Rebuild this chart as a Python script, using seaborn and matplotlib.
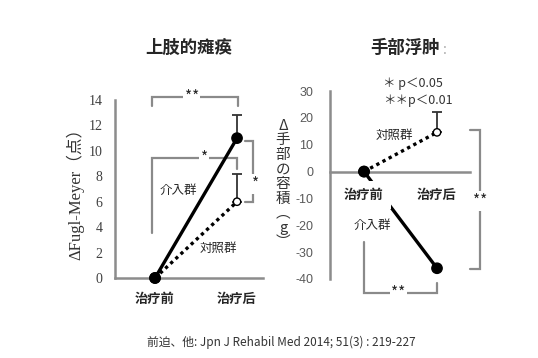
import matplotlib.pyplot as plt
import seaborn as sns
import numpy as np
import pandas as pd

# 数据
phases = ['治疗前', '治疗后']
fm_intervention = [0, 11.0]
fm_intervention_sd = [0, 1.8]
fm_control = [0, 6.0]
fm_control_sd = [0, 2.2]
vol_intervention = [0, -36.0]
vol_control = [0, 14.6]
vol_control_sd = [0, 7.4]
fm_ticks = [0, 2, 4, 6, 8, 10, 12, 14]
vol_ticks = [-40, -30, -20, -10, 0, 10, 20, 30]

sns.set_style('white')
plt.rcParams['font.family'] = ['Noto Sans CJK JP', 'DejaVu Sans']

spine_c = '#8c8c8c'
br_c = '#8a8a8a'
white = dict(facecolor='white', edgecolor='none', pad=1)

fig = plt.figure(figsize=(5.38, 3.58), dpi=100)
ax1 = fig.add_axes([0.2138, 0.2235, 0.2751, 0.4972])
ax2 = fig.add_axes([0.6134, 0.2207, 0.2602, 0.5251])

x = np.arange(len(phases))


def draw_group(ax, y, ls, face, sd=None):
    sns.lineplot(x=x, y=y, ax=ax, color='black', lw=2.4, linestyle=ls,
                 clip_on=False, zorder=2)
    if sd is not None:
        ax.errorbar(x[1:], y[1:], yerr=[[0], sd[1:]], fmt='none', ecolor='#333333',
                    elinewidth=1.3, capsize=3.5, capthick=1.3, zorder=3, clip_on=False)
    sns.scatterplot(x=x, y=y, ax=ax, s=[55, 55] if face == 'black' else [55, 28],
                    color=['black', face], edgecolor='black', linewidth=1.0,
                    zorder=5, clip_on=False, legend=False)


def bracket(ax, xs, ys):
    ax.plot(xs, ys, color=br_c, lw=1.6, clip_on=False, zorder=1,
            solid_joinstyle='miter')


def style_axis(ax):
    for s in ['top', 'right']:
        ax.spines[s].set_visible(False)
    for s in ['left', 'bottom']:
        ax.spines[s].set_color(spine_c)
        ax.spines[s].set_linewidth(1.8)
    ax.tick_params(direction='in', length=3, width=1.2, color=spine_c)


# ---- 上肢的瘫痪 ----
draw_group(ax1, fm_control, (0, (1, 1.1)), 'white', fm_control_sd)
draw_group(ax1, fm_intervention, '-', 'black', fm_intervention_sd)
style_axis(ax1)
ax1.set_xlim(-0.488, 1.317)
ax1.set_ylim(0, 14)
ax1.set_yticks(fm_ticks)
ax1.set_yticklabels([str(t) for t in fm_ticks], family='Liberation Serif',
                    fontsize=10, color='#404040')
ax1.set_xticks(x)
ax1.set_xticklabels(phases, fontsize=9.5, fontweight='bold')
ax1.tick_params(axis='x', pad=10, length=0)
ax1.tick_params(axis='y', pad=9)

bracket(ax1, [-0.04, -0.04, 1.01, 1.01], [13.5, 14.2, 14.2, 13.5])
ax1.text(0.45, 14.2, '**', ha='center', va='center', fontsize=11, bbox=white, zorder=6)
bracket(ax1, [-0.04, -0.04, 1.0, 1.0], [3.5, 9.4, 9.4, 8.6])
ax1.text(0.6, 9.4, '*', ha='center', va='center', fontsize=11, bbox=white, zorder=6)
bracket(ax1, [1.10, 1.20, 1.20, 1.10], [10.8, 10.8, 6.0, 6.0])
ax1.text(1.22, 7.4, '*', ha='center', va='center', fontsize=11, bbox=white, zorder=6)
ax1.text(0.28, 6.9, '介入群', ha='center', va='center', fontsize=9)
ax1.text(0.77, 2.35, '対照群', ha='center', va='center', fontsize=9)

# ---- 手部浮肿 ----
draw_group(ax2, vol_control, (0, (1, 1.1)), 'white', vol_control_sd)
draw_group(ax2, vol_intervention, '-', 'black')
style_axis(ax2)
ax2.set_axisbelow(False)
ax2.spines['bottom'].set_position(('data', 0))
ax2.set_xlim(-0.466, 1.452)
ax2.set_ylim(-40, 30)
ax2.set_yticks(vol_ticks)
ax2.set_yticklabels([str(t) for t in vol_ticks], family='Liberation Sans',
                    fontsize=9, color='#595959')
ax2.set_xticks(x)
ax2.set_xticklabels(phases, fontsize=9.5, fontweight='bold')
ax2.tick_params(axis='x', pad=12)
ax2.tick_params(axis='y', pad=12)
for t in ax2.get_xticklabels():
    t.set_bbox(dict(facecolor='white', edgecolor='none', pad=5))

bracket(ax2, [1.45, 1.59, 1.59, 1.45], [15.6, 15.6, -36.4, -36.4])
ax2.text(1.59, -11, '**', ha='center', va='center', fontsize=11, bbox=white, zorder=6)
bracket(ax2, [0, 0, 1, 1], [-26.4, -45.4, -45.4, -41.6])
ax2.text(0.47, -45.4, '**', ha='center', va='center', fontsize=11, bbox=white, zorder=6)
ax2.text(0.42, 13.4, '対照群', ha='center', va='center', fontsize=9)
ax2.text(0.11, -20, '介入群', ha='center', va='center', fontsize=9)
ax2.text(0.26, 32.7, '＊ p＜0.05', ha='left', va='center', fontsize=9, color='#333333')
ax2.text(0.26, 26.4, '＊＊p＜0.01', ha='left', va='center', fontsize=9, color='#333333')

# 标题和轴标签
fig.text(189 / 538, 1 - 48 / 358, '上肢的瘫痪', ha='center', va='center',
         fontsize=12.5, fontweight='bold')
fig.text(405 / 538, 1 - 48 / 358, '手部浮肿', ha='center', va='center',
         fontsize=12.5, fontweight='bold')
fig.text(445 / 538, 1 - 50 / 358, ':', ha='center', va='center',
         fontsize=10, color='#aaaaaa')
fig.text(75 / 538, 1 - 190 / 358, 'ΔFugl-Meyer（点）', rotation=90, ha='center',
         va='center', fontsize=12, color='#333333',
         family=['Liberation Serif', 'Noto Sans CJK JP'])
fig.text(283 / 538, 1 - 184 / 358, 'Δ\n手\n部\nの\n容\n積\n︵\ng\n︶', ha='center',
         va='center', fontsize=10.5, linespacing=1.05, color='#333333')
fig.text(281 / 538, 1 - 342 / 358, '前迫、他: Jpn J Rehabil Med 2014; 51(3) : 219-227',
         ha='center', va='center', fontsize=8.5, color='#333333')

fig.savefig('out.png', dpi=100)
